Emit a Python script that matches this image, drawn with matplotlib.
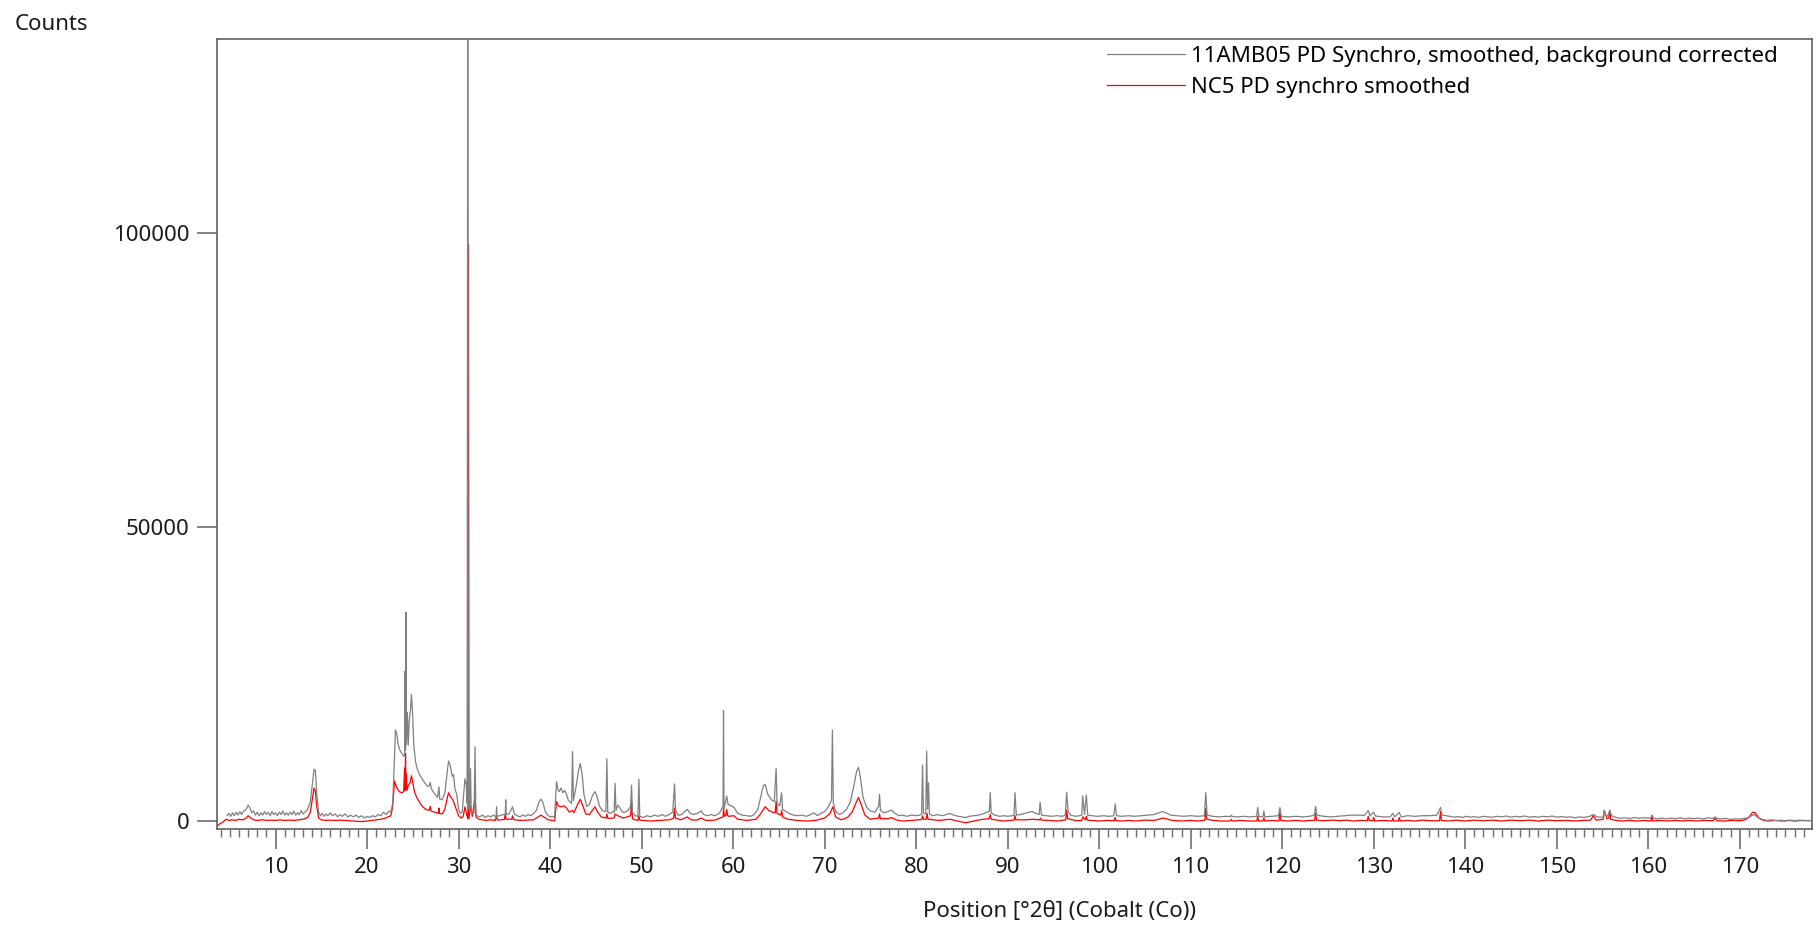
import numpy as np
import matplotlib
matplotlib.use('Agg')
import matplotlib.pyplot as plt
from matplotlib.ticker import MultipleLocator

# (position 2theta, counts)
gray_xy = [
    (4.7, 900), (4.9, 1300), (5.1, 800), (5.3, 1400), (5.5, 900), (5.7, 1500), (5.9, 1000), (6.1, 1600),
    (6.3, 1100), (6.5, 1700), (6.8, 2000), (7.0, 2700), (7.2, 2200), (7.4, 1400), (7.6, 1700), (7.8, 1000),
    (8.0, 1500), (8.2, 900), (8.4, 1400), (8.6, 1000), (8.8, 1600), (9.0, 1100), (9.2, 1500), (9.4, 900),
    (9.6, 1600), (9.8, 1100), (10.0, 1400), (10.2, 900), (10.4, 1500), (10.6, 1100), (10.8, 1700), (11.0, 1000),
    (11.2, 1400), (11.4, 1000), (11.6, 1500), (11.8, 1100), (12.0, 1700), (12.2, 1000), (12.4, 1400), (12.6, 1100),
    (12.8, 1800), (13.0, 1200), (13.2, 1500), (13.5, 2000), (13.8, 3200), (14.0, 6000), (14.2, 8800), (14.35, 8600),
    (14.5, 4500), (14.7, 1500), (14.9, 900), (15.1, 1300), (15.3, 800), (15.5, 1200), (15.7, 900), (16.0, 1400),
    (16.2, 900), (16.5, 1200), (16.8, 700), (17.0, 1100), (17.3, 800), (17.6, 1200), (17.9, 700), (18.2, 1000),
    (18.5, 700), (18.8, 1000), (19.1, 600), (19.4, 900), (19.7, 500), (20.0, 800), (20.3, 600), (20.6, 900),
    (20.9, 700), (21.2, 1100), (21.5, 900), (21.8, 1500), (22.1, 1100), (22.4, 1700), (22.6, 1500), (22.8, 3000),
    (22.95, 9000), (23.1, 15500), (23.25, 14800), (23.4, 13000), (23.6, 12000), (23.8, 11500), (24.0, 11000),
    (24.1, 11200), (24.15, 25500), (24.2, 12000), (24.25, 35500), (24.3, 13000), (24.4, 18500), (24.5, 12900),
    (24.6, 17000), (24.75, 19000), (24.85, 21500), (24.95, 19000), (25.1, 13000), (25.3, 10000), (25.5, 8800),
    (25.7, 8000), (26.0, 7200), (26.3, 6500), (26.6, 5900), (26.8, 6000), (26.9, 6600), (27.0, 5600), (27.2, 5000),
    (27.5, 4400), (27.7, 4000), (27.85, 5800), (27.95, 3700), (28.2, 3600), (28.5, 4800), (28.7, 7500),
    (28.9, 10200), (29.1, 9400), (29.3, 7600), (29.45, 7900), (29.6, 5500), (29.8, 4500), (30.0, 2000),
    (30.2, 1300), (30.4, 1500), (30.55, 4500), (30.7, 7200), (30.85, 6000), (30.93, 3000), (31.0, 140000),
    (31.07, 2500), (31.2, 1700), (31.3, 8900), (31.38, 1500), (31.55, 1200), (31.7, 1400), (31.8, 12600),
    (31.88, 1300), (32.0, 900), (32.3, 700), (32.6, 1000), (32.9, 600), (33.2, 900), (33.5, 700), (33.8, 1000),
    (34.1, 700), (34.15, 2400), (34.2, 800), (34.5, 900), (34.8, 1100), (35.1, 1000), (35.15, 3600), (35.2, 1100),
    (35.5, 1200), (35.9, 2400), (36.1, 1200), (36.4, 900), (36.7, 700), (37.0, 1000), (37.3, 800), (37.6, 1100),
    (37.9, 900), (38.2, 1300), (38.5, 1800), (38.8, 3300), (39.0, 3700), (39.2, 3200), (39.5, 1500), (39.8, 900),
    (40.0, 700), (40.3, 800), (40.5, 600), (40.55, 2500), (40.7, 6700), (40.85, 5400), (41.0, 5000), (41.2, 5600),
    (41.4, 4800), (41.6, 5200), (41.8, 4500), (42.0, 3500), (42.2, 3200), (42.35, 3000), (42.45, 11800),
    (42.55, 3500), (42.8, 5500), (43.1, 8500), (43.3, 9800), (43.5, 8000), (43.7, 4500), (44.0, 2500),
    (44.3, 2800), (44.6, 4200), (44.9, 5000), (45.1, 4300), (45.4, 2500), (45.7, 1800), (46.0, 1600),
    (46.1, 1600), (46.2, 10600), (46.3, 1500), (46.6, 1300), (46.9, 1600), (47.0, 1500), (47.1, 6400),
    (47.2, 1800), (47.4, 2700), (47.6, 2300), (47.9, 1500), (48.2, 1500), (48.5, 1800), (48.8, 2500),
    (48.9, 6100), (49.0, 1500), (49.3, 900), (49.6, 800), (49.7, 7100), (49.8, 800), (50.2, 600), (50.6, 900),
    (51.0, 700), (51.4, 1000), (51.8, 800), (52.2, 1100), (52.6, 800), (53.0, 1100), (53.4, 1500), (53.6, 6300),
    (53.7, 1800), (54.0, 1000), (54.4, 1100), (54.7, 1600), (55.0, 2000), (55.3, 1300), (55.7, 1100),
    (56.1, 1300), (56.5, 1700), (56.8, 1100), (57.2, 900), (57.6, 1100), (58.0, 900), (58.5, 1300),
    (58.9, 2500), (58.95, 18750), (59.0, 2000), (59.3, 4250), (59.45, 2800), (59.8, 2600), (60.1, 2300),
    (60.5, 1300), (61.0, 1000), (61.5, 900), (61.9, 800), (62.3, 1100), (62.7, 2000), (63.0, 4000),
    (63.3, 6000), (63.5, 6230), (63.8, 4500), (64.2, 3600), (64.5, 3300), (64.7, 8950), (64.8, 3000),
    (65.1, 2600), (65.3, 4800), (65.4, 2000), (65.8, 1600), (66.2, 1200), (66.6, 1000), (67.0, 900),
    (67.5, 1000), (68.0, 800), (68.5, 1100), (68.8, 1400), (69.2, 900), (69.6, 1300), (70.0, 1600),
    (70.4, 2400), (70.75, 3500), (70.85, 15470), (70.95, 3000), (71.2, 1700), (71.6, 1100), (72.0, 1400),
    (72.4, 2000), (72.8, 3200), (73.2, 6000), (73.5, 8500), (73.7, 9100), (73.9, 7500), (74.2, 4000),
    (74.6, 2300), (75.0, 1700), (75.5, 1500), (75.9, 2500), (76.0, 4540), (76.1, 1800), (76.5, 1400),
    (76.9, 1600), (77.3, 1870), (77.7, 1300), (78.1, 900), (78.5, 1000), (79.0, 800), (79.5, 1000),
    (80.0, 900), (80.4, 1000), (80.6, 1200), (80.7, 9520), (80.8, 1300), (81.05, 1200), (81.15, 11900),
    (81.25, 2000), (81.35, 6500), (81.45, 1200), (81.8, 900), (82.3, 1100), (82.8, 900), (83.3, 1100),
    (83.7, 1300), (84.1, 1000), (84.6, 800), (85.0, 700), (85.4, 600), (85.8, 800), (86.3, 900), (86.8, 1000),
    (87.3, 1200), (87.7, 1500), (88.0, 1600), (88.1, 4800), (88.2, 1400), (88.6, 1000), (89.1, 800),
    (89.6, 900), (90.0, 800), (90.5, 900), (90.7, 1000), (90.8, 4800), (90.95, 1000), (91.4, 1100),
    (91.9, 1300), (92.3, 1500), (92.7, 1600), (93.1, 1300), (93.45, 1100), (93.55, 3170), (93.7, 1000),
    (94.2, 900), (94.8, 800), (95.4, 900), (96.0, 800), (96.3, 1000), (96.45, 4900), (96.6, 1600),
    (96.9, 1000), (97.4, 800), (97.9, 900), (98.1, 1000), (98.2, 4250), (98.4, 1100), (98.6, 4420),
    (98.75, 1000), (99.2, 900), (99.8, 800), (100.5, 900), (101.1, 800), (101.6, 900), (101.75, 2890),
    (101.9, 900), (102.5, 800), (103.2, 900), (103.9, 800), (104.6, 900), (105.3, 1000), (106.0, 1100),
    (106.5, 1400), (106.9, 1600), (107.3, 1400), (107.8, 1000), (108.5, 900), (109.2, 800), (110.0, 900),
    (110.8, 800), (111.5, 900), (111.65, 4820), (111.8, 1000), (112.4, 800), (113.1, 700), (113.8, 800),
    (114.35, 750), (114.45, 1000), (114.55, 750), (115.1, 700), (115.8, 800), (116.5, 700), (117.2, 800),
    (117.33, 2300), (117.45, 800), (117.9, 700), (118.0, 1700), (118.1, 700), (118.8, 800), (119.6, 900),
    (119.75, 2300), (119.9, 800), (120.7, 700), (121.5, 800), (122.3, 700), (123.0, 800), (123.5, 1000),
    (123.65, 2500), (123.8, 1000), (124.5, 800), (125.3, 700), (126.1, 800), (126.9, 900), (127.6, 1000),
    (128.3, 1000), (129.0, 950), (129.4, 1800), (129.6, 900), (130.0, 1500), (130.2, 850), (131.0, 700),
    (131.8, 700), (132.1, 1300), (132.3, 700), (132.8, 1450), (133.0, 700), (133.7, 900), (134.5, 800),
    (135.3, 900), (136.1, 900), (136.9, 1000), (137.3, 2300), (137.5, 1000), (138.3, 800), (138.8, 650),
    (139.2, 750), (139.7, 600), (140.1, 800), (140.6, 650), (141.0, 750), (141.5, 600), (142.0, 800),
    (142.5, 700), (143.0, 650), (143.5, 800), (144.0, 700), (144.5, 850), (145.0, 650), (145.5, 800),
    (146.0, 700), (146.5, 850), (147.0, 650), (147.5, 750), (148.0, 650), (148.5, 800), (149.0, 700),
    (149.5, 850), (150.0, 650), (150.5, 750), (151.0, 650), (151.5, 700), (152.0, 550), (152.5, 700),
    (153.0, 600), (153.6, 800), (154.0, 1100), (154.4, 700), (154.8, 650), (155.1, 700), (155.2, 1850),
    (155.35, 900), (155.6, 900), (155.8, 1850), (156.0, 900), (156.5, 600), (157.0, 450), (157.5, 550),
    (158.0, 400), (158.5, 600), (159.0, 450), (159.5, 550), (160.3, 500), (160.4, 1000), (160.6, 500),
    (161.0, 350), (161.5, 500), (162.0, 350), (162.5, 500), (163.0, 400), (163.5, 550), (164.0, 350),
    (164.5, 500), (165.0, 400), (165.5, 500), (166.0, 350), (166.5, 550), (167.1, 450), (167.3, 700),
    (167.5, 450), (168.0, 350), (168.5, 450), (169.0, 250), (169.5, 400), (170.0, 300), (170.5, 450),
    (170.8, 500), (171.3, 900), (171.6, 1100), (171.9, 700), (172.3, 300), (173.0, 100), (173.5, 200),
    (174.0, 50), (174.5, 150), (175.0, 0), (175.5, 150), (176.0, 50), (176.5, 150), (177.0, 50), (177.9, 100),
]

red_xy = [
    (3.6, -1000), (3.8, -600), (4.0, -400), (4.3, -100), (4.6, 300), (4.9, 100), (5.2, 200), (5.6, 100),
    (6.0, 300), (6.4, 200), (6.8, 500), (7.0, 900), (7.3, 500), (7.6, 200), (8.0, 100), (8.5, 200), (9.0, 100),
    (9.5, 150), (10.0, 100), (10.5, 200), (11.0, 100), (11.5, 150), (12.0, 100), (12.5, 200), (13.0, 300),
    (13.5, 600), (13.8, 1500), (14.0, 3500), (14.2, 5600), (14.35, 5000), (14.5, 2500), (14.7, 500),
    (15.0, 200), (15.5, 100), (16.0, 150), (16.5, 100), (17.0, 150), (17.5, 100), (18.0, 50), (18.5, 0),
    (19.0, -50), (19.5, -100), (20.0, 0), (20.5, 100), (21.0, 200), (21.5, 300), (22.0, 500), (22.3, 700),
    (22.6, 900), (22.8, 2500), (23.0, 6800), (23.2, 5800), (23.5, 5000), (23.8, 4800), (24.0, 5000),
    (24.1, 9000), (24.15, 5200), (24.2, 11500), (24.25, 5500), (24.3, 8000), (24.35, 5200), (24.5, 6000),
    (24.7, 6500), (24.85, 7700), (25.0, 6500), (25.2, 4800), (25.5, 3800), (25.8, 3000), (26.1, 2400),
    (26.4, 2000), (26.8, 1800), (26.9, 2500), (27.0, 1700), (27.4, 1500), (27.8, 1300), (27.85, 2200),
    (27.9, 1300), (28.2, 1200), (28.5, 2000), (28.7, 3500), (28.9, 4800), (29.1, 4200), (29.4, 3500),
    (29.7, 2200), (30.0, 900), (30.3, 500), (30.5, 800), (30.7, 2400), (30.9, 1000), (31.02, 400),
    (31.08, 98000), (31.14, 500), (31.3, 2500), (31.5, 800), (31.8, 4200), (31.9, 700), (32.2, 300),
    (32.6, 200), (33.0, 100), (33.5, 200), (34.0, 100), (34.15, 800), (34.25, 150), (34.5, 200), (35.0, 250),
    (35.1, 1300), (35.2, 300), (35.8, 300), (35.9, 900), (36.0, 300), (36.2, 200), (36.8, 100), (37.5, 150),
    (38.2, 200), (38.8, 800), (39.0, 1000), (39.3, 700), (39.8, 200), (40.3, 100), (40.5, 0), (40.7, 3300),
    (40.9, 2600), (41.2, 2400), (41.5, 2600), (41.8, 2200), (42.1, 1500), (42.45, 1800), (42.6, 1400),
    (43.0, 2800), (43.3, 3700), (43.6, 2500), (43.9, 1200), (44.3, 1100), (44.7, 2000), (44.9, 2400),
    (45.2, 1500), (45.6, 700), (46.1, 500), (46.2, 1200), (46.3, 450), (47.0, 500), (47.1, 1200), (47.4, 900),
    (48.0, 500), (48.6, 800), (48.8, 900), (48.9, 3300), (49.0, 400), (49.1, 300), (49.6, 100), (49.7, 900),
    (49.8, 150), (50.2, 100), (51.0, 0), (52.0, 100), (53.0, 200), (53.5, 450), (53.6, 2200), (53.7, 500),
    (54.3, 200), (55.0, 700), (55.4, 200), (56.0, 150), (56.5, 500), (57.0, 100), (58.0, 150), (58.9, 700),
    (58.95, 2150), (59.05, 800), (59.2, 900), (59.3, 2000), (59.4, 900), (59.5, 800), (60.1, 900),
    (60.5, 300), (61.5, 100), (62.5, 300), (63.0, 1200), (63.5, 2430), (63.9, 1800), (64.3, 1500),
    (64.6, 1400), (64.7, 3400), (64.8, 1300), (65.2, 1000), (65.3, 1800), (65.4, 700), (66.0, 300),
    (67.0, 100), (68.0, 0), (69.0, 100), (70.0, 500), (70.6, 1300), (70.9, 2430), (71.2, 700), (71.8, 200),
    (72.5, 600), (73.0, 1500), (73.4, 3000), (73.7, 4000), (74.0, 2800), (74.4, 1000), (75.0, 300),
    (75.9, 500), (76.0, 1200), (76.1, 400), (77.0, 400), (77.3, 600), (77.8, 200), (78.5, 0), (79.5, 100),
    (80.6, 250), (80.7, 900), (80.8, 300), (81.1, 300), (81.2, 1300), (81.3, 300), (82.5, 100), (83.7, 300),
    (84.5, 0), (85.4, -300), (86.3, 0), (87.3, 300), (88.0, 400), (88.1, 1100), (88.2, 300), (89.5, 0),
    (90.7, 150), (90.8, 900), (90.9, 200), (92.0, 200), (92.7, 300), (93.5, 200), (93.6, 500), (93.7, 150),
    (94.5, 100), (95.5, 0), (96.35, 200), (96.45, 1870), (96.55, 400), (97.5, 50), (98.1, 100), (98.2, 700),
    (98.5, 200), (98.6, 800), (98.7, 150), (99.2, 100), (100.0, 0), (100.8, 100), (101.65, 50), (101.75, 600),
    (101.85, 50), (102.5, 0), (103.3, 100), (104.0, 0), (105.0, 150), (106.0, 100), (107.0, 500), (108.0, 100),
    (109.0, 0), (110.0, 100), (110.8, 0), (111.55, 150), (111.65, 2150), (111.75, 300), (112.5, 100),
    (113.3, 0), (114.35, 0), (114.45, 300), (114.55, 0), (115.5, 100), (116.4, 0), (117.23, 0), (117.33, 800),
    (117.43, 0), (117.9, 0), (118.0, 500), (118.1, 0), (118.9, 100), (119.65, 0), (119.75, 1500),
    (119.85, 100), (120.7, 0), (121.5, 100), (122.3, 0), (123.0, 100), (123.55, 100), (123.65, 1300),
    (123.75, 150), (124.5, 50), (125.5, 150), (126.3, 50), (127.0, 150), (127.8, 0), (128.6, 100),
    (129.3, 50), (129.4, 800), (129.5, 100), (129.9, 50), (130.0, 600), (130.1, 0), (131.0, 100), (132.0, 0),
    (132.1, 500), (132.2, 0), (132.7, 0), (132.8, 600), (132.9, 0), (133.7, 100), (134.5, 0), (135.3, 150),
    (136.2, 50), (137.2, 50), (137.3, 1590), (137.4, 100), (138.2, 0), (139.0, 150), (140.0, 0), (141.0, 150),
    (142.0, 50), (143.0, 150), (144.0, 0), (145.0, 150), (146.0, 50), (147.0, 150), (148.0, 0), (149.0, 150),
    (150.0, 50), (151.0, 100), (152.0, 0), (153.0, 100), (153.7, 150), (154.0, 900), (154.3, 150),
    (155.1, 300), (155.2, 1800), (155.5, 400), (155.7, 500), (155.8, 1800), (155.9, 300), (156.5, 100),
    (157.2, 0), (158.0, 100), (158.8, 0), (159.6, 100), (160.3, 0), (160.4, 900), (160.5, 0), (161.3, 100),
    (162.1, 0), (162.9, 100), (163.7, 0), (164.5, 100), (165.3, 0), (166.1, 100), (167.1, 50), (167.3, 500),
    (167.5, 50), (168.3, 0), (169.1, 100), (170.0, 50), (170.6, 200), (171.0, 600), (171.4, 1500),
    (171.7, 1400), (172.1, 500), (172.6, 100), (173.2, 0), (173.9, 100), (174.6, 0), (175.3, 100),
    (176.0, 0), (176.8, 100), (177.9, 50),
]

labels = ['11AMB05 PD Synchro, smoothed, background corrected', 'NC5 PD synchro smoothed']
colors = ['#808080', '#ff0000']
xticks = list(range(10, 171, 10))
yticks = [0, 50000, 100000]

plt.rcParams['font.family'] = ['Noto Sans', 'DejaVu Sans']
plt.rcParams['font.size'] = 16

gray = np.array(gray_xy)
red = np.array(red_xy)

fig = plt.figure(figsize=(18.16, 9.30), dpi=100)
ax = fig.add_axes([0.1195, 0.1086, 0.8783, 0.8495])

l2, = ax.plot(red[:, 0], red[:, 1], color=colors[1], lw=0.9, zorder=2)
l1, = ax.plot(gray[:, 0], gray[:, 1], color=colors[0], lw=0.9, zorder=3)

ax.set_xlim(3.6, 177.9)
ax.set_ylim(-1360, 133000)
ax.set_xticks(xticks)
ax.xaxis.set_minor_locator(MultipleLocator(1))
ax.set_yticks(yticks)
ax.set_yticklabels([str(v) for v in yticks])

for s in ax.spines.values():
    s.set_color('#606060')
    s.set_linewidth(1.2)
ax.tick_params(axis='both', which='major', direction='out', length=14.5, width=1.2,
               color='#707070', labelcolor='#1a1a1a', labelsize=16, pad=5.5)
ax.tick_params(axis='x', which='minor', direction='out', length=5.5, width=1.0, color='#707070')

ax.set_xlabel('Position [°2θ] (Cobalt (Co))', fontsize=16, color='#1a1a1a')
ax.xaxis.label.set_verticalalignment('center')
ax.xaxis.set_label_coords(0.5285, -0.105)
fig.text(15 / 1816, 1 - 30 / 930, 'Counts', fontsize=16, color='#1a1a1a', va='baseline', ha='left')

ax.legend([l1, l2], labels, loc='upper right', bbox_to_anchor=(0.9787, 0.991), frameon=False,
          borderpad=0, borderaxespad=0, handlelength=3.5, handletextpad=0.3, labelspacing=0.45,
          fontsize=16)

fig.savefig('out.png', dpi=100)
